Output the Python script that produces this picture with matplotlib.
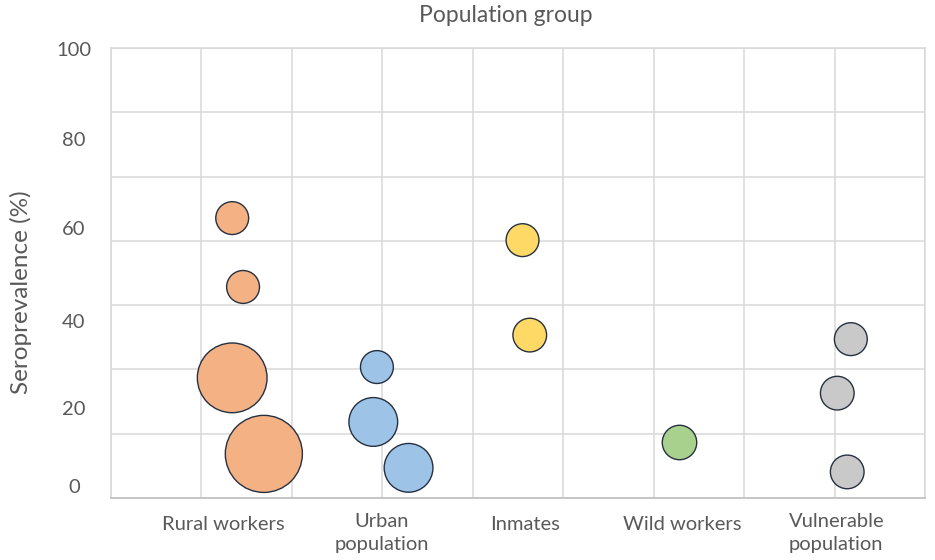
import matplotlib
matplotlib.use("Agg")
import matplotlib.pyplot as plt
import numpy as np

# ---- data ----
categories = ["Rural workers", "Urban\npopulation", "Inmates", "Wild workers", "Vulnerable\npopulation"]
colors = ["#F4B183", "#9DC3E6", "#FFD966", "#A9D18E", "#C9C9C9"]

rural_x = [1.34, 1.46, 1.34, 1.69]
rural_y = [62.2, 46.9, 26.7, 9.8]
rural_size = [1.0, 1.0, 4.5, 5.5]

urban_x = [2.94, 2.90, 3.29]
urban_y = [29.1, 16.9, 6.7]
urban_size = [1.0, 2.2, 2.2]

inmates_x = [4.55, 4.63]
inmates_y = [57.3, 36.2]
inmates_size = [1.0, 1.05]

wild_x = [6.28]
wild_y = [12.4]
wild_size = [1.1]

vuln_x = [8.18, 8.03, 8.14]
vuln_y = [35.3, 23.3, 5.8]
vuln_size = [1.0, 1.05, 1.05]

ytick_labels = ["0", "20", "40", "60", "80", "100"]

series = [
    (rural_x, rural_y, rural_size),
    (urban_x, urban_y, urban_size),
    (inmates_x, inmates_y, inmates_size),
    (wild_x, wild_y, wild_size),
    (vuln_x, vuln_y, vuln_size),
]

# ---- layout ----
plt.rcParams['font.family'] = ['Lato', 'DejaVu Sans']
W, H = 935, 560
fig = plt.figure(figsize=(W / 100, H / 100), dpi=100)
ax = fig.add_axes([111 / W, 1 - 498 / H, 814 / W, 450 / H])
ax.set_xlim(0, 9)
ax.set_ylim(0, 100)

grid_c = "#D9D9D9"
ax.set_xticks(np.arange(0, 10), minor=True)
ax.set_yticks(np.arange(0, 8) * 100 / 7, minor=True)
ax.grid(True, which="minor", color=grid_c, linewidth=1.1)
ax.set_axisbelow(True)
ax.tick_params(which="both", length=0)
ax.set_xticks([])
ax.set_yticks([])
for s in ["top", "right", "left"]:
    ax.spines[s].set_color(grid_c)
    ax.spines[s].set_linewidth(1.1)
ax.spines["bottom"].set_color("#BFBFBF")
ax.spines["bottom"].set_linewidth(1.2)

text_c = "#595959"
base = 560
for (xs, ys, ss), c in zip(series, colors):
    ax.scatter(xs, ys, s=[v * base for v in ss], c=c, edgecolors="#263040",
               linewidths=1.0, zorder=3, clip_on=False)

# y tick labels (as placed in the reference)
ytick_pos = [2.4, 19.6, 39.1, 59.6, 79.5, 99.5]
for lbl, yp in zip(ytick_labels, ytick_pos):
    ax.text(-37 / 814, yp / 100, lbl, transform=ax.transAxes, ha="center", va="center",
            fontsize=14.5, color=text_c)

# category labels
cat_pos = [1.24, 2.99, 4.58, 6.32, 8.02]
for lbl, xp in zip(categories, cat_pos):
    yc = 525 if "\n" not in lbl else 533
    ax.text(xp, 1 - (yc - 48) / 450, lbl, transform=ax.get_xaxis_transform(),
            ha="center", va="center", fontsize=14.5, color=text_c, linespacing=1.4)

fig.text(506 / W, 1 - 15 / H, "Population group", ha="center", va="center",
         fontsize=16.5, color=text_c)
fig.text(21 / W, 1 - 292 / H, "Seroprevalence (%)", rotation=90, ha="center",
         va="center", fontsize=17.5, color=text_c)

fig.savefig("out.png", dpi=100, facecolor="white")
